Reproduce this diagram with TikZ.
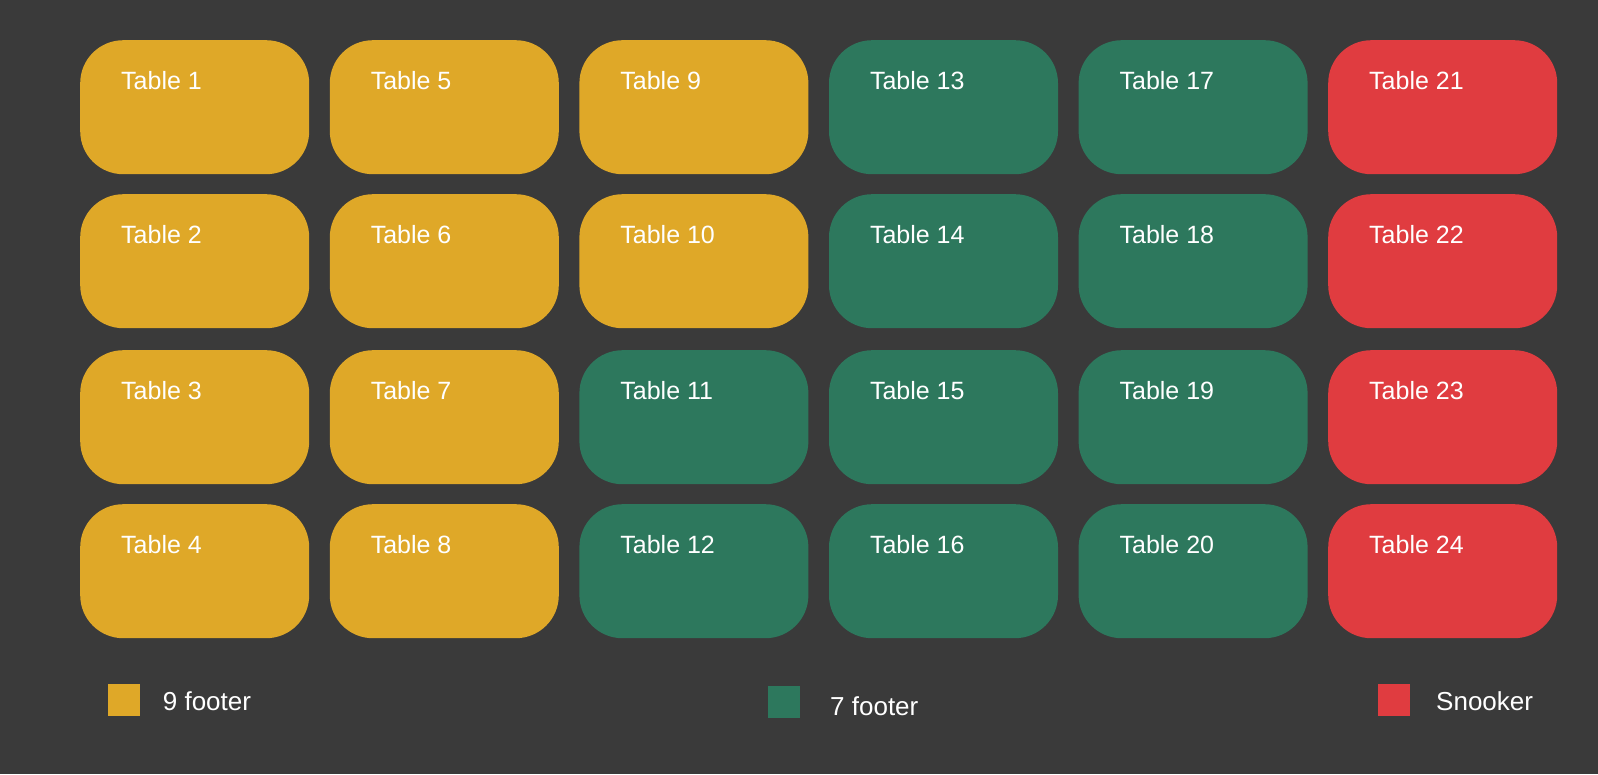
\documentclass[tikz,border=0pt]{standalone}
\usepackage{fontspec}
\setmainfont{Liberation Sans}
\definecolor{bg}{RGB}{58,58,58}
\definecolor{nine}{RGB}{223,168,40}
\definecolor{seven}{RGB}{45,120,93}
\definecolor{snook}{RGB}{224,60,64}
\begin{document}
\begin{tikzpicture}[x=1pt,y=-1pt,
  tablebox/.style={rectangle,rounded corners=43pt,minimum width=229pt,minimum height=134pt,inner sep=0pt,anchor=north west},
  tablelabel/.style={text=white,font=\fontsize{25}{30}\selectfont,anchor=base west,inner sep=0pt},
  legendbox/.style={rectangle,minimum size=32pt,inner sep=0pt,anchor=north west},
  legendlabel/.style={text=white,font=\fontsize{26}{31}\selectfont,anchor=base west,inner sep=0pt}]
\fill[bg] (0,0) rectangle (1598,774);
\useasboundingbox (0,0) rectangle (1598,774);
\foreach \c in {0,...,5}{
  \foreach \r/\tp in {0/40,1/194,2/350,3/504}{
    \pgfmathtruncatemacro{\n}{4*\c+\r+1}
    \pgfmathsetmacro{\xl}{80+249.6*\c}
    \ifnum\n<11 \def\col{nine}\else\ifnum\n<21 \def\col{seven}\else\def\col{snook}\fi\fi
    \node[tablebox,fill=\col] (t\n) at (\xl,\tp) {};
    \node[tablelabel] (l\n) at (\xl+41,\tp+49.5) {Table \n};
  }
}
\node[legendbox,fill=nine] (k9) at (108,684) {};
\node[legendlabel] (k9l) at (162.7,710) {9 footer};
\node[legendbox,fill=seven] (k7) at (768,686) {};
\node[legendlabel] (k7l) at (830,715.7) {7 footer};
\node[legendbox,fill=snook] (ks) at (1378,684) {};
\node[legendlabel] (ksl) at (1436,710) {Snooker};
\end{tikzpicture}
\end{document}
